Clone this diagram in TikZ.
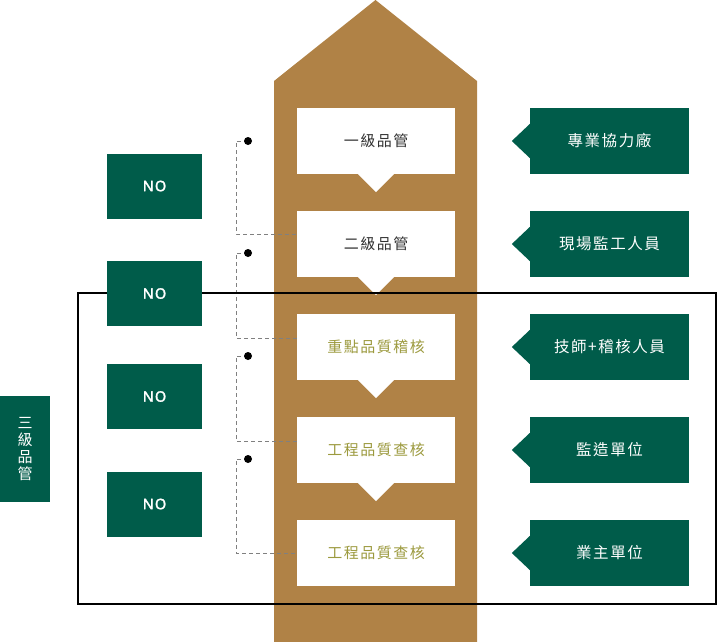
\documentclass[tikz,border=0pt]{standalone}
\usepackage{fontspec}
\setmainfont{Noto Sans}
\newfontfamily\cjk[LetterSpace=10]{Noto Sans CJK TC}
\newfontfamily\nofont[LetterSpace=8,FakeBold=2]{Noto Sans}
\definecolor{colbrown}{HTML}{B08246}
\definecolor{colgreen}{HTML}{005C4A}
\definecolor{cololive}{HTML}{9C9A3E}
\definecolor{colgrey}{HTML}{333333}

\begin{document}
\begin{tikzpicture}[x=1pt,y=-1pt,
  level/.style={fill=white,minimum width=158pt,minimum height=66pt,inner sep=0pt,
    font=\cjk\fontsize{15}{18}\selectfont},
  unit/.style={fill=colgreen,text=white,minimum width=159pt,minimum height=66pt,
    inner sep=0pt,font=\cjk\fontsize{15.5}{18}\selectfont},
  nobox/.style={fill=colgreen,text=white,minimum width=95pt,minimum height=65pt,
    inner sep=0pt,font=\nofont\fontsize{14.5}{17}\selectfont},
  tag/.style={fill=colgreen,text=white,minimum width=50pt,minimum height=106pt,
    inner sep=0pt,align=center,font=\cjk\fontsize{15}{17}\selectfont},
  link/.style={draw=gray,line width=0.8pt,dash pattern=on 4pt off 3pt}]

\useasboundingbox (0,0) rectangle (718,642);

\fill[colbrown] (274,642) -- (274,81) -- (375.5,0) -- (477,81) -- (477,642) -- cycle;

\node[level,text=colgrey] (q1) at (376,141) {一級品管};
\node[level,text=colgrey] (q2) at (376,244) {二級品管};
\node[level,text=cololive] (q3) at (376,347) {重點品質稽核};
\node[level,text=cololive] (q4) at (376,450) {工程品質查核};
\node[level,text=cololive] (q5) at (376,553) {工程品質查核};
\foreach \n in {1,...,4}
  \fill[white] ([xshift=-19pt,yshift=1pt]q\n.south) -- ++(19,19) -- ++(19,-19) -- cycle;

\coordinate (d1) at (248,141);
\coordinate (d2) at (248,253);
\coordinate (d3) at (248,356);
\coordinate (d4) at (248,459);
\coordinate (e2) at (297,234);
\coordinate (e3) at (297,338);
\coordinate (e4) at (297,441);
\coordinate (e5) at (297,553);
\foreach \a/\b in {1/2,2/3,3/4,4/5} {
  \draw[link] (d\a) -- ++(-12,0) |- (e\b);
  \fill (d\a) circle[radius=4pt];
}

\node[unit] (r1) at (609.5,141) {專業協力廠};
\node[unit] (r2) at (609.5,244) {現場監工人員};
\node[unit] (r3) at (609.5,347) {技師+稽核人員};
\node[unit] (r4) at (609.5,450) {監造單位};
\node[unit] (r5) at (609.5,553) {業主單位};
\foreach \n in {1,...,5}
  \fill[colgreen] ([xshift=1pt,yshift=18pt]r\n.west) -- ++(-19,18) -- ++(19,18) -- cycle;

\draw[line width=1.5pt] (78,293) rectangle (716,604);

\node[nobox] (n1) at (154.5,186) {NO};
\node[nobox] (n2) at (154.5,293.5) {NO};
\node[nobox] (n3) at (154.5,396.5) {NO};
\node[nobox] (n4) at (154.5,504) {NO};

\node[tag] (lvl3) at (25,449) {三\\級\\品\\管};

\end{tikzpicture}
\end{document}
